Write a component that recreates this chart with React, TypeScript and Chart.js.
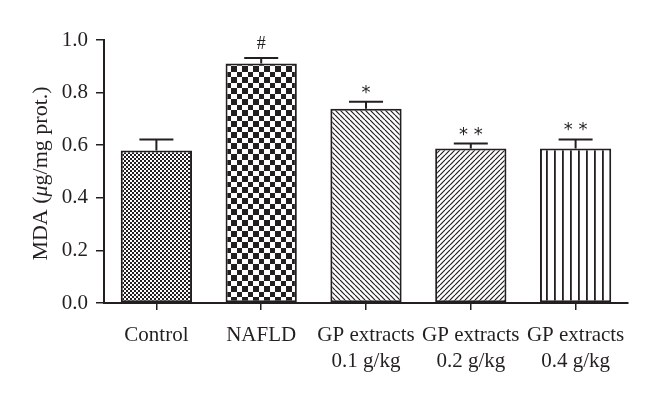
import React, { useEffect, useRef } from "react";
import { Chart, registerables } from "chart.js";

Chart.register(...registerables);

const categories: (string | string[])[] = [
  "Control",
  "NAFLD",
  ["GP extracts", "0.1 g/kg"],
  ["GP extracts", "0.2 g/kg"],
  ["GP extracts", "0.4 g/kg"],
];
const mdaValues = [0.58, 0.911, 0.739, 0.587, 0.587];
const sdValues = [0.042, 0.021, 0.026, 0.019, 0.035];
const significance = ["", "#", "*", "* *", "* *"];
const patternKinds = ["fineChecker", "coarseChecker", "backDiag", "fwdDiag", "vertical"];
const yMin = 0;
const yMax = 1.0;
const yStep = 0.2;

const INK = "#231f20";
const FONT = "'Liberation Serif', 'Times New Roman', serif";
const SANS = "'DejaVu Sans', sans-serif";

function makePattern(kind: string): CanvasPattern | string {
  const c = document.createElement("canvas");
  const ctx = c.getContext("2d");
  if (!ctx) return "#fff";
  if (kind === "fineChecker") {
    c.width = 4; c.height = 4;
    ctx.fillStyle = "#fff"; ctx.fillRect(0, 0, 4, 4);
    ctx.fillStyle = INK; ctx.fillRect(0, 0, 2, 2); ctx.fillRect(2, 2, 2, 2);
  } else if (kind === "coarseChecker") {
    c.width = 11; c.height = 11;
    ctx.fillStyle = "#fff"; ctx.fillRect(0, 0, 11, 11);
    ctx.fillStyle = INK; ctx.fillRect(0, 0, 6, 6); ctx.fillRect(6, 6, 5, 5);
  } else if (kind === "backDiag" || kind === "fwdDiag") {
    const n = 5;
    c.width = n; c.height = n;
    ctx.fillStyle = "#fff"; ctx.fillRect(0, 0, n, n);
    ctx.strokeStyle = INK; ctx.lineWidth = 1.2;
    for (let k = -1; k <= 1; k++) {
      ctx.beginPath();
      if (kind === "backDiag") {
        ctx.moveTo(k * n, 0); ctx.lineTo(k * n + n, n);
      } else {
        ctx.moveTo(k * n, n); ctx.lineTo(k * n + n, 0);
      }
      ctx.stroke();
    }
  } else {
    c.width = 8; c.height = 8;
    ctx.fillStyle = "#fff"; ctx.fillRect(0, 0, 8, 8);
    ctx.fillStyle = INK; ctx.fillRect(2, 0, 1.8, 8);
  }
  return ctx.createPattern(c, "repeat") as CanvasPattern;
}

const errorBarPlugin = {
  id: "errorBars",
  afterDatasetsDraw(chart: any) {
    const meta = chart.getDatasetMeta(0);
    const yScale = chart.scales.y;
    const ctx = chart.ctx;
    ctx.save();
    ctx.strokeStyle = INK;
    ctx.lineWidth = 2;
    meta.data.forEach((bar: any, i: number) => {
      const top = yScale.getPixelForValue(mdaValues[i] + sdValues[i]);
      ctx.beginPath();
      ctx.moveTo(bar.x, bar.y);
      ctx.lineTo(bar.x, top);
      ctx.moveTo(bar.x - 17, top);
      ctx.lineTo(bar.x + 17, top);
      ctx.stroke();
      const s = significance[i];
      if (s) {
        ctx.fillStyle = INK;
        ctx.textAlign = "center";
        ctx.textBaseline = "alphabetic";
        if (s === "#") {
          ctx.font = `18px ${FONT}`;
          ctx.fillText(s, bar.x, top - 9);
        } else {
          ctx.font = `18px ${SANS}`;
          ctx.fillText(s, bar.x, top - 4);
        }
      }
    });
    ctx.restore();
  },
};

const yTitlePlugin = {
  id: "yTitle",
  afterDraw(chart: any) {
    const ctx = chart.ctx;
    const area = chart.chartArea;
    const parts = [
      { t: "MDA (", f: `22px ${FONT}` },
      { t: "μ", f: `italic 22px ${FONT}` },
      { t: "g/mg prot.)", f: `22px ${FONT}` },
    ];
    ctx.save();
    let total = 0;
    parts.forEach((p) => { ctx.font = p.f; total += ctx.measureText(p.t).width; });
    ctx.translate(41, (area.top + area.bottom) / 2 + 2);
    ctx.rotate(-Math.PI / 2);
    ctx.fillStyle = INK;
    ctx.textBaseline = "middle";
    ctx.textAlign = "left";
    let x = -total / 2;
    parts.forEach((p) => {
      ctx.font = p.f;
      ctx.fillText(p.t, x, 0);
      x += ctx.measureText(p.t).width;
    });
    ctx.restore();
  },
};

export default function App() {
  const ref = useRef<HTMLCanvasElement | null>(null);
  useEffect(() => {
    if (!ref.current) return;
    const chart = new Chart(ref.current, {
      type: "bar",
      data: {
        labels: categories,
        datasets: [
          {
            label: "MDA",
            data: mdaValues,
            backgroundColor: patternKinds.map(makePattern) as any,
            borderColor: INK,
            borderWidth: 2,
            borderSkipped: false,
            barPercentage: 0.68,
            categoryPercentage: 1,
          },
        ],
      },
      options: {
        animation: false,
        responsive: false,
        maintainAspectRatio: false,
        layout: { padding: { top: 40, right: 32, left: 0, bottom: 0 } },
        plugins: { legend: { display: false }, tooltip: { enabled: false } },
        scales: {
          x: {
            offset: true,
            grid: { display: true, offset: false, drawOnChartArea: false, tickLength: 7, tickColor: INK, lineWidth: 1.5 },
            border: { display: true, color: INK, width: 2 },
            ticks: { color: INK, font: { family: FONT, size: 21, lineHeight: 1.25 }, padding: 12, maxRotation: 0, autoSkip: false },
            afterFit: (s: any) => { s.height = 93; },
          },
          y: {
            min: yMin,
            max: yMax,
            grid: { display: true, drawOnChartArea: false, tickLength: 8, tickColor: INK, lineWidth: 1.5 },
            border: { display: true, color: INK, width: 2 },
            ticks: {
              stepSize: yStep,
              color: INK,
              font: { family: FONT, size: 21 },
              padding: 8,
              callback: (v: any) => Number(v).toFixed(1),
            },
            afterFit: (s: any) => { s.width = 104; },
          },
        },
      },
      plugins: [errorBarPlugin, yTitlePlugin],
    });
    return () => chart.destroy();
  }, []);
  return (
    <div style={{ position: "fixed", left: 0, top: 0, width: 660, height: 396, background: "#fff" }}>
      <canvas ref={ref} width={660} height={396} style={{ width: 660, height: 396, display: "block" }} />
    </div>
  );
}
